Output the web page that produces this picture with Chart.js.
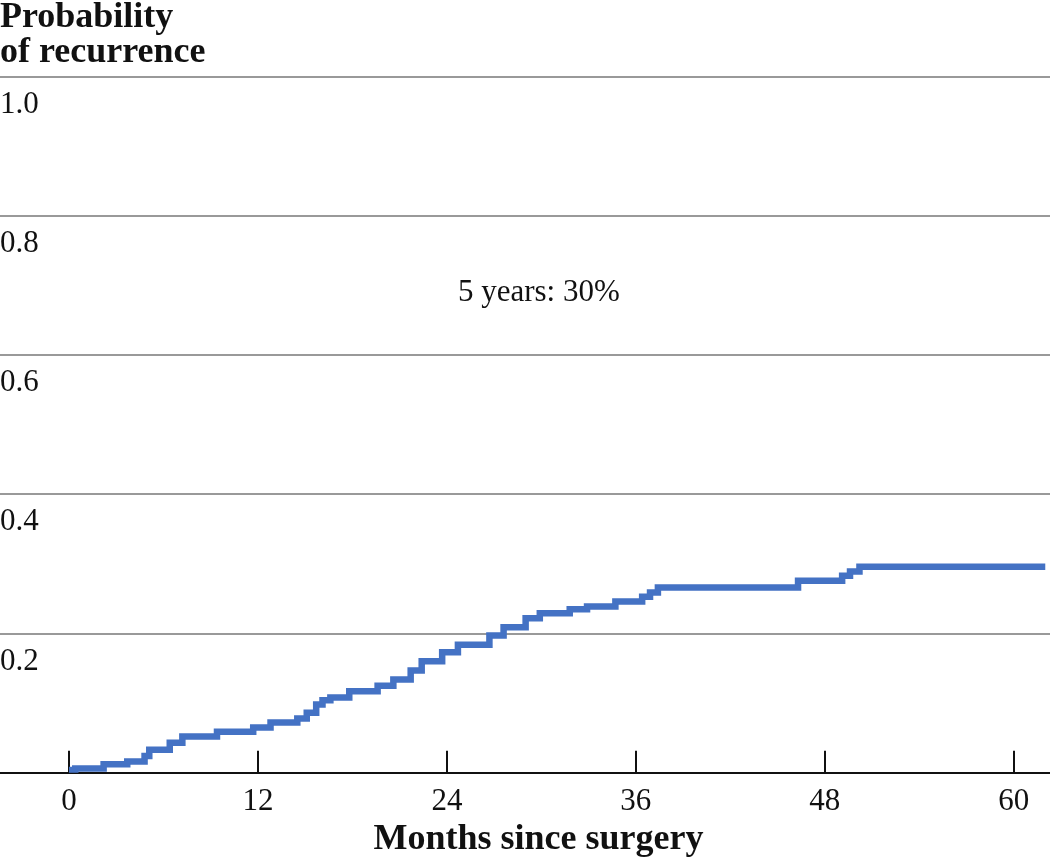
<!DOCTYPE html>
<html>
<head>
<meta charset="utf-8">
<script src="https://cdn.jsdelivr.net/npm/chart.js@4/dist/chart.umd.min.js"></script>
<style>
  html, body { margin: 0; padding: 0; background: #fff; }
  #wrap { width: 1050px; height: 861px; }
</style>
</head>
<body>
<div id="wrap"><canvas id="chart" width="1050" height="861"></canvas></div>
<script>
// step times (months) and cumulative probability of recurrence
const months = [0, 0.4, 2.2, 3.7, 4.8, 5.1, 6.4, 7.2, 9.4, 11.7, 12.8, 14.5, 15.1, 15.7,
  16.1, 16.6, 17.8, 19.6, 20.6, 21.7, 22.4, 23.7, 24.7, 26.7, 27.6, 29.0, 29.9, 31.8,
  32.9, 34.7, 36.4, 36.9, 37.4, 46.3, 49.1, 49.6, 50.2, 62.0];
const recurrence = [0.004, 0.006, 0.012, 0.016, 0.024, 0.033, 0.043, 0.052, 0.059, 0.065,
  0.072, 0.078, 0.086, 0.098, 0.104, 0.108, 0.117, 0.125, 0.134, 0.147, 0.160, 0.173,
  0.184, 0.197, 0.209, 0.222, 0.229, 0.235, 0.239, 0.246, 0.253, 0.259, 0.266, 0.276,
  0.283, 0.289, 0.296, 0.296];

const xTicks = [0, 12, 24, 36, 48, 60];
const yTicks = [0, 0.2, 0.4, 0.6, 0.8, 1.0];
const yTitle = ['Probability', 'of recurrence'];
const xTitle = 'Months since surgery';
const note = '5 years: 30%';
const notePos = [29.84, 0.69];

const serif = '"Liberation Serif", "Times New Roman", serif';

// short upward tick marks on the x axis, and the text label in the plot
const extras = {
  id: 'extras',
  beforeDatasetsDraw(chart) {
    const ctx = chart.ctx, xs = chart.scales.x, bottom = chart.chartArea.bottom;
    ctx.save();
    ctx.strokeStyle = '#111';
    ctx.lineWidth = 2;
    xTicks.forEach(t => {
      const px = Math.round(xs.getPixelForValue(t));
      ctx.beginPath();
      ctx.moveTo(px, bottom - 22);
      ctx.lineTo(px, bottom);
      ctx.stroke();
    });
    ctx.restore();
  },
  afterDraw(chart) {
    const ctx = chart.ctx;
    const x = chart.scales.x.getPixelForValue(notePos[0]);
    const y = chart.scales.y.getPixelForValue(notePos[1]);
    ctx.save();
    ctx.font = '31px ' + serif;
    ctx.fillStyle = '#111';
    ctx.textAlign = 'center';
    ctx.textBaseline = 'middle';
    ctx.fillText(note, x, y);
    ctx.restore();
  }
};

new Chart(document.getElementById('chart'), {
  type: 'line',
  data: {
    datasets: [{
      data: months.map((m, i) => ({ x: m, y: recurrence[i] })),
      borderColor: '#4472c4',
      borderWidth: 6.5,
      stepped: 'before',
      pointRadius: 0,
      fill: false,
      borderJoinStyle: 'miter'
    }]
  },
  options: {
    responsive: false,
    animation: false,
    layout: { padding: 0 },
    plugins: {
      legend: { display: false },
      tooltip: { enabled: false },
      title: {
        display: true,
        text: yTitle,
        align: 'start',
        color: '#111',
        font: { family: serif, size: 36, weight: 'bold', lineHeight: 0.97 },
        padding: { top: 0, bottom: 7 }
      }
    },
    scales: {
      x: {
        type: 'linear',
        min: -4.38,
        max: 62.3,
        afterBuildTicks: s => { s.ticks = xTicks.map(v => ({ value: v })); },
        grid: { display: false },
        border: { display: true, color: '#111', width: 2 },
        ticks: {
          color: '#111',
          font: { family: serif, size: 31, lineHeight: 1.1 },
          padding: 4,
          maxRotation: 0
        },
        title: {
          display: true,
          text: '   ' + xTitle,
          color: '#111',
          font: { family: serif, size: 36, weight: 'bold' },
          padding: { top: -5, bottom: 0 }
        }
      },
      y: {
        min: 0,
        max: 1,
        afterBuildTicks: s => { s.ticks = yTicks.map(v => ({ value: v })); },
        grid: {
          drawTicks: false,
          color: '#999',
          lineWidth: 2
        },
        border: { display: false },
        ticks: {
          mirror: true,
          padding: 0,
          labelOffset: 28,
          color: '#111',
          font: { family: serif, size: 31 },
          callback: v => (v === 0 ? '' : v.toFixed(1))
        }
      }
    }
  },
  plugins: [extras]
});
</script>
</body>
</html>
